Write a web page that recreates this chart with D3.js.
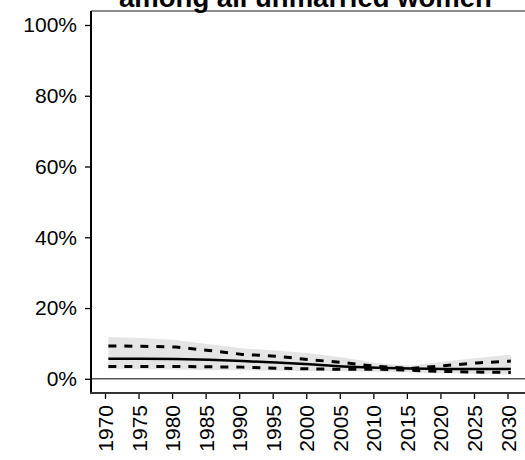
<!DOCTYPE html>
<html>
<head>
<meta charset="utf-8">
<script src="https://cdn.jsdelivr.net/npm/d3@7"></script>
<style>
  html, body { margin: 0; padding: 0; background: #fff; }
  svg { display: block; font-family: "Liberation Sans", Arial, sans-serif; }
</style>
</head>
<body>
<svg id="chart" width="525" height="460"></svg>
<script>
const title = "among all unmarried women";
const years = [1970.5, 1975.5, 1980.5, 1985.5, 1990.5, 1995.5, 2000.5, 2005.5, 2010.5, 2015.5, 2020.5, 2025.5, 2030.5];
const median = [5.7, 5.7, 5.6, 5.4, 5.0, 4.6, 4.1, 3.5, 3.1, 2.9, 2.8, 2.8, 2.8];
const upper80 = [9.3, 9.2, 9.0, 8.0, 6.9, 6.4, 5.4, 4.6, 3.5, 2.9, 3.7, 4.5, 5.0];
const lower80 = [3.5, 3.5, 3.5, 3.4, 3.3, 3.0, 2.8, 2.7, 2.7, 2.4, 2.1, 1.9, 1.8];
const upper95 = [11.8, 11.5, 11.0, 9.8, 8.6, 8.0, 7.2, 6.0, 4.5, 3.7, 4.9, 5.9, 6.8];
const lower95 = [2.7, 2.7, 2.6, 2.5, 2.4, 2.3, 2.2, 2.1, 2.0, 1.8, 1.6, 1.4, 1.2];
const xTicks = [1970, 1975, 1980, 1985, 1990, 1995, 2000, 2005, 2010, 2015, 2020, 2025, 2030];
const yTicks = [0, 20, 40, 60, 80, 100];

(function () {
const svg = d3.select("#chart");
const x = d3.scaleLinear().domain([1970, 2030]).range([105, 507.5]);
const y = d3.scaleLinear().domain([0, 100]).range([378.8, 25]);

const pLeft = 91, pTop = 11, pBottom = 393, pRight = 525;

// band
const rows = years.map((yr, i) => ({yr, m: median[i], u8: upper80[i], l8: lower80[i], u9: upper95[i], l9: lower95[i]}));
svg.append("path")
  .datum(rows)
  .attr("fill", "#e5e5e5")
  .attr("d", d3.area().x(d => x(d.yr)).y0(d => y(d.l9)).y1(d => y(d.u9)));

// 0% reference line
svg.append("line").attr("x1", pLeft).attr("x2", pRight).attr("y1", y(0)).attr("y2", y(0))
  .attr("stroke", "#555").attr("stroke-width", 1.5);

const line = key => d3.line().x(d => x(d.yr)).y(d => y(d[key]));
svg.append("path").datum(rows).attr("fill", "none").attr("stroke", "#000")
  .attr("stroke-width", 3).attr("stroke-dasharray", "8,8").attr("d", line("u8"));
svg.append("path").datum(rows).attr("fill", "none").attr("stroke", "#000")
  .attr("stroke-width", 3).attr("stroke-dasharray", "8,8").attr("d", line("l8"));
svg.append("path").datum(rows).attr("fill", "none").attr("stroke", "#000")
  .attr("stroke-width", 2.5).attr("d", line("m"));

// frame
svg.append("line").attr("x1", pLeft).attr("x2", pRight).attr("y1", pTop).attr("y2", pTop)
  .attr("stroke", "#666").attr("stroke-width", 1.5);

// y axis
const yAxis = d3.axisLeft(y).tickValues(yTicks).tickFormat(d => d + "%").tickSize(6).tickPadding(8);
const gy = svg.append("g").attr("transform", `translate(${pLeft},0)`).call(yAxis);
gy.select(".domain").remove();
gy.selectAll(".tick line").attr("stroke", "#000").attr("stroke-width", 1.3);
gy.selectAll(".tick text").attr("font-size", 21).attr("fill", "#000")
  .attr("font-family", "'Liberation Sans', Arial, sans-serif");
svg.append("line").attr("x1", pLeft).attr("x2", pLeft).attr("y1", pTop).attr("y2", pBottom)
  .attr("stroke", "#000").attr("stroke-width", 2);

// x axis
const xAxis = d3.axisBottom(x).tickValues(xTicks).tickFormat(d3.format("d")).tickSize(6).tickPadding(0);
const gx = svg.append("g").attr("transform", `translate(0,${pBottom})`).call(xAxis);
gx.select(".domain").remove();
gx.selectAll(".tick line").attr("stroke", "#000").attr("stroke-width", 1.3);
gx.selectAll(".tick text")
  .attr("font-size", 21).attr("fill", "#000")
  .attr("font-family", "'Liberation Sans', Arial, sans-serif")
  .attr("text-anchor", "end")
  .attr("transform", "translate(0,12) rotate(-90)")
  .attr("x", 0).attr("y", 0).attr("dy", "0.36em");
svg.append("line").attr("x1", pLeft - 1).attr("x2", pRight).attr("y1", pBottom).attr("y2", pBottom)
  .attr("stroke", "#333").attr("stroke-width", 1.8);

// title
svg.append("text").attr("x", 305.5).attr("y", 7).attr("text-anchor", "middle")
  .attr("font-size", 27.5).attr("font-weight", "bold").attr("fill", "#000")
  .text(title);
})();
</script>
</body>
</html>
